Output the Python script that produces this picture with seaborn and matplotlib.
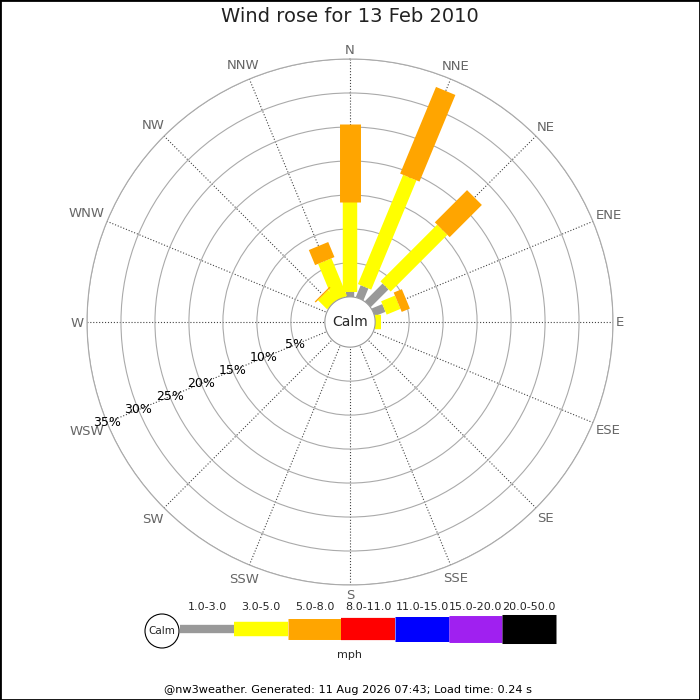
import numpy as np
import seaborn as sns
import matplotlib.pyplot as plt
from matplotlib.patches import Circle, Rectangle

# compass sectors, clockwise from north
directions = ['N', 'NNE', 'NE', 'ENE', 'E', 'ESE', 'SE', 'SSE',
              'S', 'SSW', 'SW', 'WSW', 'W', 'WNW', 'NW', 'NNW']
speed_bins = ['1.0-3.0', '3.0-5.0', '5.0-8.0', '8.0-11.0',
              '11.0-15.0', '15.0-20.0', '20.0-50.0']
bin_colors = ['#999999', '#ffff00', '#ffa500', '#ff0000',
              '#0000ff', '#a020f0', '#000000']

# frequency (%) per direction for each speed bin
pct_1_3 = [0.7, 1.9, 3.7, 1.7, 0.0, 0.0, 0.0, 0.0, 0.0, 0.0, 0.0, 0.0, 0.0, 0.0, 0.0, 0.0]
pct_3_5 = [13.2, 17.4, 11.8, 2.2, 0.9, 0.0, 0.0, 0.0, 0.0, 0.0, 0.0, 0.0, 0.0, 0.0, 1.9, 6.0]
pct_5_8 = [11.6, 13.8, 6.7, 1.3, 0.0, 0.0, 0.0, 0.0, 0.0, 0.0, 0.0, 0.0, 0.0, 0.0, 0.2, 2.4]
pct_8_11 = [0.0, 0.0, 0.0, 0.0, 0.0, 0.0, 0.0, 0.0, 0.0, 0.0, 0.0, 0.0, 0.0, 0.0, 0.0, 0.0]
pct_11_15 = [0.0, 0.0, 0.0, 0.0, 0.0, 0.0, 0.0, 0.0, 0.0, 0.0, 0.0, 0.0, 0.0, 0.0, 0.0, 0.0]
pct_15_20 = [0.0, 0.0, 0.0, 0.0, 0.0, 0.0, 0.0, 0.0, 0.0, 0.0, 0.0, 0.0, 0.0, 0.0, 0.0, 0.0]
pct_20_50 = [0.0, 0.0, 0.0, 0.0, 0.0, 0.0, 0.0, 0.0, 0.0, 0.0, 0.0, 0.0, 0.0, 0.0, 0.0, 0.0]

ring_pcts = [5, 10, 15, 20, 25, 30, 35]

title = 'Wind rose for 13 Feb 2010'
footer = '@nw3weather. Generated: 11 Aug 2026 07:43; Load time: 0.24 s'

CALM = 3.7          # radius of the calm circle, in % units
BAR_LW = [6.0, 10.4, 15.1, 16.0, 18.0, 19.4, 20.9]   # line widths (pt) per bin

sns.set_theme(style='white')
plt.rcParams['font.family'] = ['DejaVu Sans']

fig = plt.figure(figsize=(7, 7), dpi=100)
ax = fig.add_axes([87 / 700, 115 / 700, 526 / 700, 526 / 700], projection='polar')
ax.set_theta_zero_location('N')
ax.set_theta_direction(-1)
rmax = CALM + ring_pcts[-1]
ax.set_ylim(0, rmax)

theta = np.deg2rad(np.arange(len(directions)) * 22.5)

# grid
ax.set_xticks(theta)
ax.set_xticklabels([])
ax.tick_params(axis='x', length=0)
ax.xaxis.grid(True, color='#444444', linestyle=':', linewidth=0.8)
ax.set_yticks([CALM + p for p in ring_pcts])
ax.set_yticklabels([])
ax.yaxis.grid(True, color='#aaaaaa', linestyle='-', linewidth=0.8)
ax.spines['polar'].set_color('#aaaaaa')
ax.spines['polar'].set_linewidth(0.8)
ax.set_axisbelow(True)

# direction labels: box sits a few pixels outside the outer ring
renderer = fig.canvas.get_renderer()
for th, lab in zip(theta, directions):
    tmp = fig.text(0, 0, lab, fontsize=9.5)
    bb = tmp.get_window_extent(renderer)
    tmp.remove()
    off = 3 + bb.width / 2 * abs(np.sin(th)) + bb.height / 2 * abs(np.cos(th))
    ax.annotate(lab, xy=(th, rmax), xytext=(off * np.sin(th), off * np.cos(th) - 1),
                textcoords='offset pixels', ha='center', va='center',
                fontsize=9.5, color='#666666', annotation_clip=False)

# stacked bars as thick butt-capped lines
series = [pct_1_3, pct_3_5, pct_5_8, pct_8_11, pct_11_15, pct_15_20, pct_20_50]
base = np.full(len(directions), CALM)
for vals, col, lw in zip(series, bin_colors, BAR_LW):
    vals = np.asarray(vals)
    for th, r0, v in zip(theta, base, vals):
        if v > 0:
            ax.plot([th, th], [r0, r0 + v], color=col, lw=lw,
                    solid_capstyle='butt', zorder=3)
    base = base + vals

# calm circle
circ_t = np.linspace(0, 2 * np.pi, 300)
ax.fill(circ_t, np.full_like(circ_t, CALM), facecolor='white',
        edgecolor='#999999', linewidth=0.8, zorder=4)
ax.text(0, 0, 'Calm', ha='center', va='center', fontsize=10, zorder=5)

# ring labels along WSW
for p in ring_pcts:
    ax.text(np.deg2rad(247.5), CALM + p, f'{p}%', ha='center', va='center',
            fontsize=9, color='black', zorder=5)

# legend / annotations in pixel coordinates
lg = fig.add_axes([0, 0, 1, 1])
lg.set_xlim(0, 700)
lg.set_ylim(700, 0)
lg.axis('off')

edges = [180, 234, 288, 341, 395, 449, 502, 556]
for i, (lab, col, lw) in enumerate(zip(speed_bins, bin_colors, BAR_LW)):
    lg.plot([edges[i], edges[i + 1]], [629, 629], color=col, lw=lw,
            solid_capstyle='butt')
    lg.text((edges[i] + edges[i + 1]) / 2, 607, lab, ha='center', va='center',
            fontsize=8)
lg.add_patch(Circle((162, 631), 17, facecolor='white', edgecolor='black',
                    linewidth=0.8, zorder=3))
lg.text(162, 631, 'Calm', ha='center', va='center', fontsize=7.5, zorder=4)
lg.text(350, 655, 'mph', ha='center', va='center', fontsize=8)

fig.text(0.5, 1 - 17 / 700, title, ha='center', va='center', fontsize=14,
         color='#222222')
fig.text(348 / 700, 1 - 690 / 700, footer, ha='center', va='center',
         fontsize=8.15, color='black')
fig.patches.append(Rectangle((0, 0), 1, 1, transform=fig.transFigure,
                             fill=False, edgecolor='black', linewidth=2))

fig.savefig('out.png', dpi=100)
